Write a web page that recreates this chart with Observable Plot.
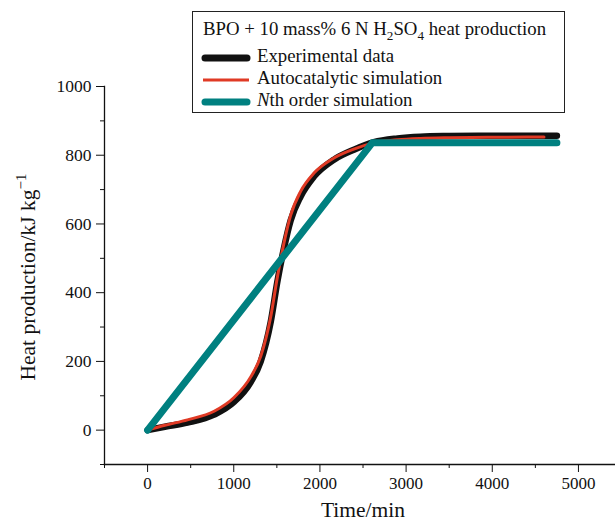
<!DOCTYPE html>
<html><head><meta charset="utf-8">
<script src="https://cdn.jsdelivr.net/npm/d3@7"></script>
<script src="https://cdn.jsdelivr.net/npm/@observablehq/plot@0.6"></script>
<style>
body{margin:0;background:#fff;font-family:"Liberation Serif","Times New Roman",serif;}
#wrap{position:relative;width:615px;height:524px;overflow:hidden;}
#legend{position:absolute;left:192px;top:11px;width:373px;height:102px;border:1.5px solid #222;box-sizing:border-box;font-size:18.8px;color:#111;}
#legend .t{position:absolute;left:10px;top:6px;white-space:nowrap;}
#legend .row{position:absolute;left:8px;white-space:nowrap;height:22px;line-height:22px;}
#legend .row svg{vertical-align:middle;margin-right:6px;}
sub,sup{font-size:70%;line-height:0;}
#ytitle{position:absolute;left:28px;top:277px;transform:translate(-50%,-50%) rotate(-90deg);white-space:nowrap;font-size:21.5px;color:#111;}
#xtitle{position:absolute;left:363px;top:510px;transform:translate(-50%,-50%);white-space:nowrap;font-size:21.5px;color:#111;line-height:24px;}
</style></head>
<body><div id="wrap"></div>
<script>
const expT = [0, 200, 463, 772, 1003, 1197, 1313, 1429, 1506, 1583, 1660, 1776, 1931, 2162, 2394, 2626, 2900, 3167, 3500, 3940, 4400, 4750];
const expV = [0, 10, 22, 45, 82, 140, 200, 315, 432, 530, 610, 680, 738, 787, 816, 838, 849, 854, 856, 857, 857, 857];
const autoT = [0, 200, 463, 772, 1003, 1197, 1313, 1429, 1506, 1583, 1660, 1776, 1931, 2162, 2394, 2626, 2900, 3167, 3500, 3940, 4400, 4600];
const autoV = [0, 14, 30, 55, 95, 155, 215, 330, 445, 545, 625, 695, 748, 792, 818, 836, 845, 849, 851, 852, 853, 853];
const nthT = [0, 2607, 4750];
const nthV = [0, 836, 836];
const xMajor = [0, 1000, 2000, 3000, 4000, 5000];
const xMinor = [-500, 500, 1500, 2500, 3500, 4500];
const yMajor = [0, 200, 400, 600, 800, 1000];
const yMinor = [-100, 100, 300, 500, 700, 900];

const exp = expT.map((t,i)=>({t, v: expV[i]}));
const auto = autoT.map((t,i)=>({t, v: autoV[i]}));
const nth = nthT.map((t,i)=>({t, v: nthV[i]}));

const font = "Liberation Serif";
const chart = Plot.plot({
  width: 615, height: 524,
  marginLeft: 104, marginRight: 0, marginTop: 86, marginBottom: 60,
  style: {fontFamily: font, fontSize: "17px", color: "#111", background: "white", overflow: "visible"},
  x: {domain: [-500, 5430]},
  y: {domain: [-100, 1000]},
  marks: [
    Plot.axisX(xMajor, {tickSize: 8, tickPadding: 4, tickFormat: d => String(d), label: null, fontSize: 17}),
    Plot.axisX(xMinor, {tickSize: 4, tickFormat: () => "", label: null}),
    Plot.axisY(yMajor, {tickSize: 8, tickPadding: 5, tickFormat: d => String(d), label: null, fontSize: 17.5}),
    Plot.axisY(yMinor, {tickSize: 4, tickFormat: () => "", label: null}),
    Plot.frame({anchor: "left", stroke: "#111", strokeWidth: 1.3}),
    Plot.frame({anchor: "bottom", stroke: "#111", strokeWidth: 1.3}),
    Plot.line(exp, {x: "t", y: "v", stroke: "#111", strokeWidth: 6.5, curve: "monotone-x", strokeLinecap: "round"}),
    Plot.line(auto, {x: "t", y: "v", stroke: "#e03a25", strokeWidth: 3, curve: "monotone-x", strokeLinecap: "round"}),
    Plot.line(nth, {x: "t", y: "v", stroke: "#008080", strokeWidth: 7, strokeLinecap: "round", strokeLinejoin: "round"})
  ]
});
const wrap = document.getElementById("wrap");
wrap.appendChild(chart);
wrap.insertAdjacentHTML("beforeend", `
<div id="legend">
  <div class="t">BPO + 10 mass% 6 N H<sub>2</sub>SO<sub>4</sub> heat production</div>
  <div class="row" style="top:33px"><svg width="50" height="10"><line x1="4" y1="5" x2="46" y2="5" stroke="#111" stroke-width="7" stroke-linecap="round"/></svg>Experimental data</div>
  <div class="row" style="top:55px"><svg width="50" height="10"><line x1="2" y1="5" x2="48" y2="5" stroke="#e03a25" stroke-width="3"/></svg>Autocatalytic simulation</div>
  <div class="row" style="top:77px"><svg width="50" height="10"><line x1="4" y1="5" x2="46" y2="5" stroke="#008080" stroke-width="7" stroke-linecap="round"/></svg><i>N</i>th order simulation</div>
</div>
<div id="ytitle">Heat production/kJ kg<sup>−1</sup></div>
<div id="xtitle">Time/min</div>`);
</script></body></html>
